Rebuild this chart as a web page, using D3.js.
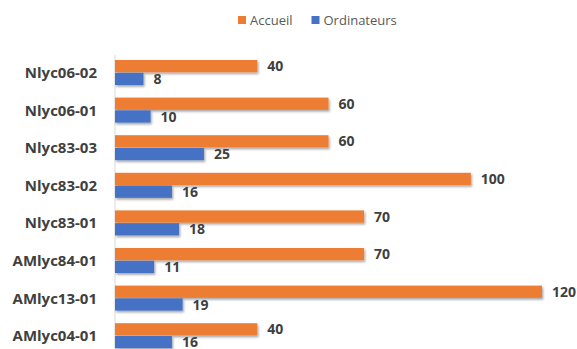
<!DOCTYPE html>
<html>
<head>
<meta charset="utf-8">
<script src="https://cdn.jsdelivr.net/npm/d3@7"></script>
<style>
  html, body { margin: 0; padding: 0; background: #fff; }
  svg { display: block; font-family: "Open Sans", "Liberation Sans", sans-serif; }
</style>
</head>
<body>
<svg id="chart" width="577" height="349"></svg>
<script>
// Sites, top to bottom
const categories = ["Nlyc06-02", "Nlyc06-01", "Nlyc83-03", "Nlyc83-02", "Nlyc83-01", "AMlyc84-01", "AMlyc13-01", "AMlyc04-01"];
const seriesNames = ["Accueil", "Ordinateurs"];
const accueil = [40, 60, 60, 100, 70, 70, 120, 40];
const ordinateurs = [8, 10, 25, 16, 18, 11, 19, 16];
const colors = ["#ED7D31", "#4472C4"];

const svg = d3.select("#chart");
const width = 577, height = 349;

const defs = svg.append("defs");
const f = defs.append("filter").attr("id", "shadow")
  .attr("x", "-5%").attr("y", "-40%").attr("width", "115%").attr("height", "200%");
f.append("feDropShadow").attr("dx", 1.2).attr("dy", 1.8).attr("stdDeviation", 1.3)
  .attr("flood-color", "#000").attr("flood-opacity", 0.35);

const x = d3.scaleLinear().domain([0, 120]).range([115, 542]);
const y = d3.scaleBand().domain(categories).range([53.7, 354.5])
  .paddingInner(0.335).paddingOuter(0.1675);
const ySub = d3.scaleBand().domain(seriesNames).range([0, y.bandwidth()]).paddingInner(0.04);

const rows = categories.map((c, i) => ({ cat: c, vals: [accueil[i], ordinateurs[i]] }));

// vertical category axis line
svg.append("line")
  .attr("x1", x(0)).attr("x2", x(0))
  .attr("y1", 55).attr("y2", height)
  .attr("stroke", "#d9d9d9").attr("stroke-width", 1);

const g = svg.selectAll("g.row").data(rows).join("g")
  .attr("class", "row")
  .attr("transform", d => `translate(0,${y(d.cat)})`);

g.selectAll("rect").data(d => d.vals.map((v, k) => ({ v, k }))).join("rect")
  .attr("x", x(0))
  .attr("y", d => ySub(seriesNames[d.k]))
  .attr("width", d => x(d.v) - x(0))
  .attr("height", ySub.bandwidth())
  .attr("fill", d => colors[d.k])
  .attr("filter", "url(#shadow)");

g.selectAll("text.val").data(d => d.vals.map((v, k) => ({ v, k }))).join("text")
  .attr("class", "val")
  .attr("x", d => x(d.v) + 10)
  .attr("y", d => ySub(seriesNames[d.k]) + ySub.bandwidth() / 2)
  .attr("dy", "0.36em")
  .attr("font-size", 14)
  .attr("font-weight", "bold")
  .attr("fill", "#404040")
  .text(d => d.v);

// category labels
svg.selectAll("text.cat").data(categories).join("text")
  .attr("class", "cat")
  .attr("x", 97)
  .attr("y", d => y(d) + y.bandwidth() / 2)
  .attr("dy", "0.36em")
  .attr("text-anchor", "end")
  .attr("font-size", 15)
  .attr("font-weight", "bold")
  .attr("fill", "#404040")
  .text(d => d);

// legend
const legendX = [238, 311.5];
const lg = svg.selectAll("g.legend").data(seriesNames).join("g")
  .attr("class", "legend")
  .attr("transform", (d, i) => `translate(${legendX[i]},16)`);
lg.append("rect").attr("width", 8).attr("height", 8).attr("fill", (d, i) => colors[i]);
lg.append("text").attr("x", 12).attr("y", 4).attr("dy", "0.36em")
  .attr("font-size", 13).attr("fill", "#595959").text(d => d);
</script>
</body>
</html>
